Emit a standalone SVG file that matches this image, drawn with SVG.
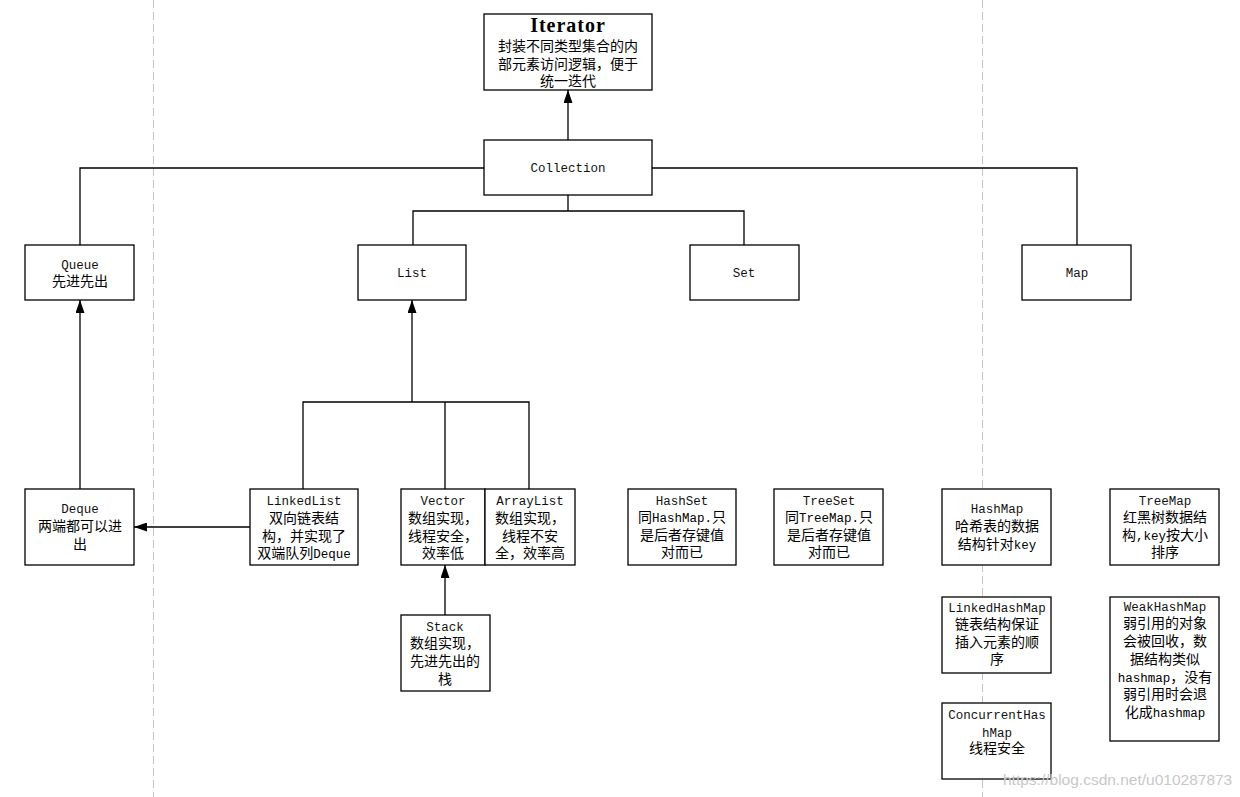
<svg xmlns="http://www.w3.org/2000/svg" width="1240" height="797" viewBox="0 0 1240 797">
<style>
.box{fill:#fff;stroke:#000;stroke-width:1.3}
.t{font-family:"Liberation Mono","Noto Sans CJK SC",monospace;font-size:12.5px;text-anchor:middle;fill:#111}
.c{font-family:"Noto Sans CJK SC","Noto Sans CJK JP",sans-serif;font-size:14px;text-anchor:middle;fill:#000}
.l{font-family:"Liberation Mono",monospace;font-size:12.5px}
.title{font-family:"Liberation Serif",serif;font-weight:bold;font-size:20px;letter-spacing:1px;text-anchor:middle;fill:#000}
.conn{fill:none;stroke:#000;stroke-width:1.3}
.guide{stroke:#c4c4c4;stroke-width:1;stroke-dasharray:8 4}
.wm{font-family:"Liberation Sans",sans-serif;font-size:15.5px;fill:#c8c8c8}
</style>
<defs>
<marker id="arr" markerUnits="userSpaceOnUse" markerWidth="13" markerHeight="9" viewBox="0 0 13 9" refX="13" refY="4.5" orient="auto">
<path d="M0,0 L13,4.5 L0,9 z" fill="#000"/>
</marker>
</defs>
<rect width="1240" height="797" fill="#fff"/>
<g id="guides">
<line class="guide" x1="153.5" y1="0" x2="153.5" y2="797"/>
<line class="guide" x1="982.5" y1="0" x2="982.5" y2="797"/>
</g>
<g id="connectors">
<path class="conn" d="M568,140 V90" marker-end="url(#arr)"/>
<path class="conn" d="M484,168 H80 V245"/>
<path class="conn" d="M652,168 H1077 V245"/>
<path class="conn" d="M568,195 V211 M413,245 V211 H744 V245"/>
<path class="conn" d="M412,402 V300" marker-end="url(#arr)"/>
<path class="conn" d="M303,489 V402 H529 V489 M445,402 V489"/>
<path class="conn" d="M80,489 V300" marker-end="url(#arr)"/>
<path class="conn" d="M250,527 H134" marker-end="url(#arr)"/>
<path class="conn" d="M445,615 V565" marker-end="url(#arr)"/>
</g>
<g id="iterator">
<rect class="box" x="484" y="14" width="168" height="76"/>
<text class="title" x="568" y="32">Iterator</text>
<text class="c" x="568" y="51">封装不同类型集合的内</text>
<text class="c" x="568" y="69">部元素访问逻辑，便于</text>
<text class="c" x="568" y="86">统一迭代</text>
</g>
<g id="collection">
<rect class="box" x="484" y="140" width="168" height="55"/>
<text class="t" x="568" y="171.5">Collection</text>
</g>
<g id="queue">
<rect class="box" x="25" y="245" width="109" height="55"/>
<text class="t" x="80" y="268.5">Queue</text>
<text class="c" x="80" y="286">先进先出</text>
</g>
<g id="list">
<rect class="box" x="358" y="245" width="108" height="55"/>
<text class="t" x="412" y="276.5">List</text>
</g>
<g id="set">
<rect class="box" x="690" y="245" width="109" height="55"/>
<text class="t" x="744" y="276.5">Set</text>
</g>
<g id="map">
<rect class="box" x="1022" y="245" width="109" height="55"/>
<text class="t" x="1077" y="276.5">Map</text>
</g>
<g id="deque">
<rect class="box" x="25" y="489" width="109" height="76"/>
<text class="t" x="80" y="512.5">Deque</text>
<text class="c" x="80" y="531">两端都可以进</text>
<text class="c" x="80" y="549">出</text>
</g>
<g id="linkedlist">
<rect class="box" x="250" y="489" width="108" height="76"/>
<text class="t" x="304" y="504.5">LinkedList</text>
<text class="c" x="304" y="523">双向链表结</text>
<text class="c" x="304" y="541">构，并实现了</text>
<text class="c" x="304" y="558">双端队列<tspan class="l">Deque</tspan></text>
</g>
<g id="vector">
<rect class="box" x="401" y="489" width="84" height="76"/>
<text class="t" x="443" y="504.5">Vector</text>
<text class="c" x="443" y="523">数组实现，</text>
<text class="c" x="443" y="541">线程安全，</text>
<text class="c" x="443" y="558">效率低</text>
</g>
<g id="arraylist">
<rect class="box" x="485" y="489" width="90" height="76"/>
<text class="t" x="530" y="504.5">ArrayList</text>
<text class="c" x="530" y="523">数组实现，</text>
<text class="c" x="530" y="541">线程不安</text>
<text class="c" x="530" y="558">全，效率高</text>
</g>
<g id="stack">
<rect class="box" x="401" y="615" width="89" height="76"/>
<text class="t" x="445" y="630.5">Stack</text>
<text class="c" x="445" y="648">数组实现，</text>
<text class="c" x="445" y="666">先进先出的</text>
<text class="c" x="445" y="684">栈</text>
</g>
<g id="hashset">
<rect class="box" x="628" y="489" width="108" height="76"/>
<text class="t" x="682" y="504.5">HashSet</text>
<text class="c" x="682" y="522">同<tspan class="l">HashMap.</tspan>只</text>
<text class="c" x="682" y="540">是后者存键值</text>
<text class="c" x="682" y="557">对而已</text>
</g>
<g id="treeset">
<rect class="box" x="774" y="489" width="109" height="76"/>
<text class="t" x="829" y="504.5">TreeSet</text>
<text class="c" x="829" y="522">同<tspan class="l">TreeMap.</tspan>只</text>
<text class="c" x="829" y="540">是后者存键值</text>
<text class="c" x="829" y="557">对而已</text>
</g>
<g id="hashmap">
<rect class="box" x="942" y="489" width="109" height="76"/>
<text class="t" x="997" y="512.5">HashMap</text>
<text class="c" x="997" y="531">哈希表的数据</text>
<text class="c" x="997" y="549">结构针对<tspan class="l">key</tspan></text>
</g>
<g id="treemap">
<rect class="box" x="1110" y="489" width="109" height="76"/>
<text class="t" x="1165" y="504.5">TreeMap</text>
<text class="c" x="1165" y="522">红黑树数据结</text>
<text class="c" x="1165" y="540">构<tspan class="l">,key</tspan>按大小</text>
<text class="c" x="1165" y="557">排序</text>
</g>
<g id="linkedhashmap">
<rect class="box" x="942" y="597" width="109" height="76"/>
<text class="t" x="997" y="611.5">LinkedHashMap</text>
<text class="c" x="997" y="629">链表结构保证</text>
<text class="c" x="997" y="647">插入元素的顺</text>
<text class="c" x="997" y="664">序</text>
</g>
<g id="concurrenthashmap">
<rect class="box" x="942" y="703" width="109" height="76"/>
<text class="t" x="997" y="718.5">ConcurrentHas</text>
<text class="t" x="997" y="736.5">hMap</text>
<text class="c" x="997" y="753">线程安全</text>
</g>
<g id="weakhashmap">
<rect class="box" x="1110" y="597" width="109" height="144"/>
<text class="t" x="1165" y="610.5">WeakHashMap</text>
<text class="c" x="1165" y="628">弱引用的对象</text>
<text class="c" x="1165" y="646">会被回收，数</text>
<text class="c" x="1165" y="664">据结构类似</text>
<text class="c" x="1165" y="682"><tspan class="l">hashmap</tspan>，没有</text>
<text class="c" x="1165" y="699">弱引用时会退</text>
<text class="c" x="1165" y="717">化成<tspan class="l">hashmap</tspan></text>
</g>
<text class="wm" x="1003" y="785">https://blog.csdn.net/u010287873</text>
</svg>
